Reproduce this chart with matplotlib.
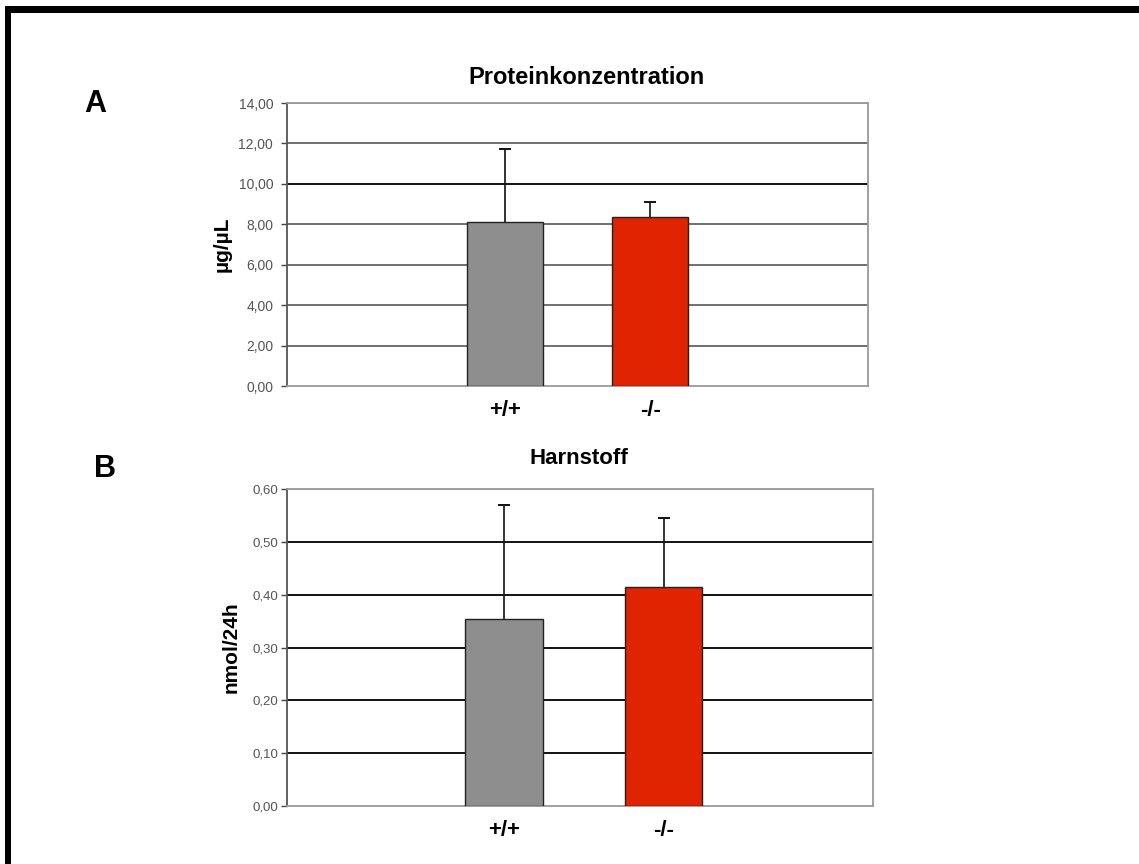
import matplotlib
matplotlib.use("Agg")
import matplotlib.pyplot as plt
from matplotlib.patches import Rectangle

plt.rcParams["font.family"] = ["Liberation Sans", "DejaVu Sans"]

# Panel A: protein concentration
cats_a = ["+/+", "-/-"]
pos_a = [1.5, 2.5]
mean_a = [8.10, 8.35]
err_a = [3.62, 0.75]
ticks_a = [0, 2, 4, 6, 8, 10, 12, 14]
ticklabels_a = ["0,00", "2,00", "4,00", "6,00", "8,00", "10,00", "12,00", "14,00"]

# Panel B: urea
cats_b = ["+/+", "-/-"]
pos_b = [1.48, 2.57]
mean_b = [0.354, 0.415]
err_b = [0.216, 0.131]
ticks_b = [0.0, 0.1, 0.2, 0.3, 0.4, 0.5, 0.6]
ticklabels_b = ["0,00", "0,10", "0,20", "0,30", "0,40", "0,50", "0,60"]

bar_colors = ["#8e8e8e", "#e02300"]

fig = plt.figure(figsize=(11.39, 8.64), dpi=100)

# black frame on the top and left edges
fig.add_artist(Rectangle((0.0044, 0.985), 0.9956, 0.0075, transform=fig.transFigure,
                         color="black", lw=0))
fig.add_artist(Rectangle((0.0044, 0.0), 0.0053, 0.9925, transform=fig.transFigure,
                         color="black", lw=0))


def panel(rect, pos, means, errs, cats, ticks, labels, ymax, width, ylabel,
          grid_colors, ylabel_x, tick_size, tick_pad, xlab_pad):
    ax = fig.add_axes(rect)
    ax.set_xlim(0, 4)
    ax.set_ylim(0, ymax)
    for t, c in zip(ticks[1:], grid_colors):
        ax.axhline(t, color=c, lw=1.4, zorder=1)
    ax.bar(pos, means, width=width, color=bar_colors, edgecolor="#222222",
           linewidth=1.0, zorder=3)
    # upper error bars only
    _, caps, _ = ax.errorbar(pos, means, yerr=[[0] * len(errs), errs], fmt="none",
                             ecolor="#111111", elinewidth=1.2, capsize=4.5,
                             capthick=1.4, zorder=2)
    caps[0].set_visible(False)
    for s in ax.spines.values():
        s.set_color("#9a9a9a")
        s.set_linewidth(1.3)
    ax.spines["left"].set_color("#555555")
    ax.set_yticks(ticks)
    ax.set_yticklabels(labels)
    ax.tick_params(axis="y", length=4, width=1, color="#444444", labelsize=tick_size,
                   labelcolor="#555555", pad=tick_pad)
    ax.set_xticks(pos)
    ax.set_xticklabels(cats, fontsize=16, fontweight="bold")
    ax.tick_params(axis="x", length=0, pad=xlab_pad)
    ax.set_ylabel(ylabel, fontsize=15, fontweight="bold")
    ax.yaxis.set_label_coords(ylabel_x, 0.5)
    return ax


ax_a = panel([0.2520, 0.5532, 0.5101, 0.3275], pos_a, mean_a, err_a, cats_a,
             ticks_a, ticklabels_a, 14, 0.52, "µg/µL",
             ["#707070", "#707070", "#707070", "#707070", "#111111", "#707070", "#909090"],
             -0.095, 10, 6, 10)

ax_b = panel([0.2520, 0.0671, 0.5145, 0.3669], pos_b, mean_b, err_b, cats_b,
             ticks_b, ticklabels_b, 0.6, 0.53, "nmol/24h",
             ["#111111", "#111111", "#111111", "#111111", "#111111", "#909090"],
             -0.080, 9.5, 2, 10)

fig.text(587 / 1139, 1 - 77 / 864, "Proteinkonzentration", fontsize=17,
         fontweight="bold", ha="center", va="center")
fig.text(579 / 1139, 1 - 458 / 864, "Harnstoff", fontsize=16,
         fontweight="bold", ha="center", va="center")

fig.text(95 / 1139, 1 - 104 / 864, "A", fontsize=22, fontweight="bold",
         ha="center", va="center")
fig.text(105 / 1139, 1 - 469 / 864, "B", fontsize=22, fontweight="bold",
         ha="center", va="center")

fig.savefig("out.png", dpi=100)
